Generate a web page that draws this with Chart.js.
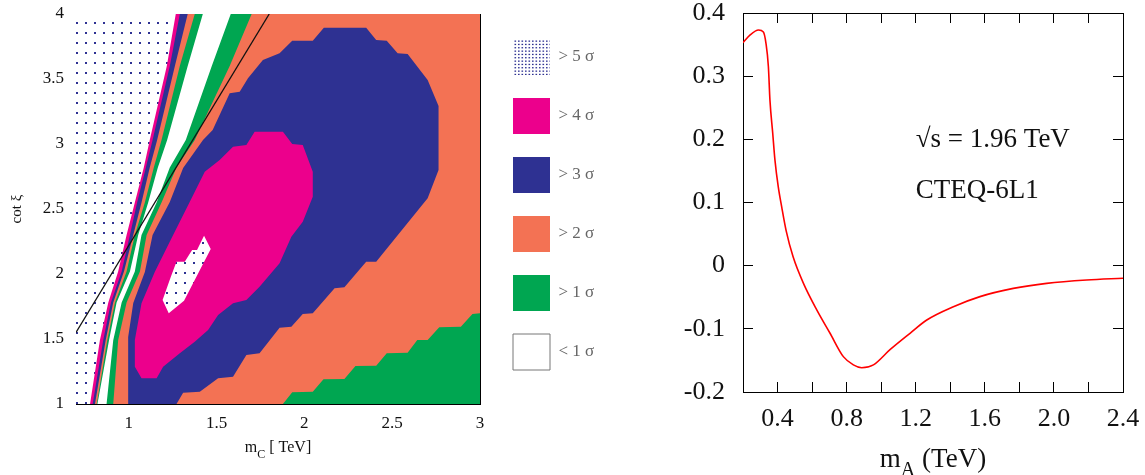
<!DOCTYPE html>
<html>
<head>
<meta charset="utf-8">
<script src="https://cdn.jsdelivr.net/npm/chart.js@4.4.1/dist/chart.umd.min.js"></script>
<style>
  html, body { margin: 0; padding: 0; background: #fff; overflow: hidden; }
  /* the left panel's canvas starts off-page so the layout leaves the legend enough width */
  #left  { position: absolute; left: -200px; top: 0; width: 860px; height: 475px; }
  #right { position: absolute; left: 660px;  top: 0; width: 485px; height: 475px; }
</style>
</head>
<body>
<div id="left"><canvas id="contour"></canvas></div>
<div id="right"><canvas id="curve"></canvas></div>
<script>
const SERIF = '"Liberation Serif", "DejaVu Serif", serif';
const NAVY = '#2e3192', MAGENTA = '#ec008c', ORANGE = '#f37254', GREEN = '#00a651';
const OFFSET = 200; // px of the left canvas hidden off-page

// ---- left panel: significance regions in (m_C, cot xi) ----
const mcRange = [0.7, 3.0];
const cotRange = [1.0, 4.0];

// the whole frame starts as > 2 sigma
const frameBox = [[0.7, 1.0], [3.0, 1.0], [3.0, 4.0], [0.7, 4.0]];

const greenCorner = [[1.878, 1.0], [1.931, 1.09], [2.048, 1.095], [2.109, 1.19], [2.228, 1.192],
  [2.291, 1.292], [2.409, 1.295], [2.469, 1.39], [2.588, 1.395], [2.643, 1.492], [2.702, 1.492],
  [2.768, 1.59], [2.891, 1.595], [2.957, 1.692], [3.0, 1.698], [3.0, 1.0]];

const blueRegion = [[0.997, 1.0], [0.997, 1.515], [1.026, 1.777], [1.092, 2.015], [1.136, 2.3],
  [1.234, 2.554], [1.31, 2.815], [1.423, 3.031], [1.478, 3.108], [1.575, 3.39], [1.632, 3.402],
  [1.679, 3.505], [1.764, 3.646], [1.859, 3.698], [1.931, 3.795], [2.048, 3.795], [2.111, 3.895],
  [2.352, 3.895], [2.409, 3.8], [2.469, 3.795], [2.531, 3.698], [2.588, 3.692], [2.702, 3.492],
  [2.764, 3.292], [2.764, 2.8], [2.702, 2.582], [2.409, 2.095], [2.352, 2.095], [2.228, 1.898],
  [2.172, 1.89], [2.048, 1.698], [1.991, 1.692], [1.926, 1.595], [1.859, 1.587], [1.745, 1.39],
  [1.67, 1.377], [1.594, 1.21], [1.509, 1.198], [1.405, 1.095], [1.31, 1.087], [1.272, 1.0]];

const pinkRegion = [[1.035, 1.492], [1.035, 1.287], [1.073, 1.198], [1.159, 1.198], [1.196, 1.287],
  [1.291, 1.39], [1.376, 1.479], [1.452, 1.569], [1.509, 1.685], [1.594, 1.775], [1.67, 1.8],
  [1.745, 1.902], [1.859, 2.082], [1.926, 2.287], [1.991, 2.402], [2.048, 2.595], [2.048, 2.787],
  [1.991, 2.992], [1.931, 3.0], [1.878, 3.095], [1.717, 3.095], [1.67, 2.992], [1.594, 2.979],
  [1.518, 2.877], [1.433, 2.787], [1.348, 2.556], [1.253, 2.3], [1.149, 2.018], [1.073, 1.775]];

const dotIsland = [[1.429, 2.294], [1.467, 2.192], [1.315, 1.795], [1.228, 1.698], [1.193, 1.8],
  [1.24, 1.979], [1.272, 2.095], [1.319, 2.095], [1.361, 2.185], [1.389, 2.185]];

// thin stripes along the left: m_C of each colour edge at these cot xi levels
const stripeLevels = [4.0, 3.6, 3.03, 2.82, 2.55, 2.3, 2.02, 1.78, 1.49, 1.0];
const edgeDots   = [1.268, 1.217, 1.120, 1.086, 1.035, 0.988, 0.940, 0.884, 0.836, 0.780];
const edgePink   = [1.291, 1.234, 1.136, 1.098, 1.048, 1.007, 0.960, 0.899, 0.855, 0.795];
const edgeBlue   = [1.336, 1.263, 1.162, 1.120, 1.073, 1.026, 0.973, 0.912, 0.869, 0.808];
const edgeOrange = [1.376, 1.291, 1.187, 1.143, 1.092, 1.035, 0.988, 0.922, 0.878, 0.818];
const edgeGreen1 = [1.422, 1.336, 1.219, 1.166, 1.111, 1.054, 1.007, 0.931, 0.888, 0.822];
const edgeWhite  = [1.581, 1.473, 1.325, 1.234, 1.159, 1.073, 1.035, 0.960, 0.912, 0.874];
const edgeGreen2 = [1.700, 1.575, 1.376, 1.272, 1.187, 1.102, 1.064, 0.988, 0.940, 0.912];

const cutLine = [[0.7, 1.55], [1.8, 4.0]];

const legendText = ['> 5 σ', '> 4 σ', '> 3 σ', '> 2 σ', '> 1 σ', '< 1 σ'];
const leftTitleX = [['m', false], ['C', true], [' [ TeV]', false]];
const leftTitleY = 'cot ξ';

// ---- right panel: asymmetry vs m_A ----
const massA = [0.2, 0.24, 0.29, 0.318, 0.333, 0.347, 0.356, 0.372, 0.385, 0.404, 0.424, 0.45,
  0.49, 0.55, 0.627, 0.704, 0.781, 0.839, 0.887, 0.955, 1.051, 1.167, 1.264, 1.418, 1.572,
  1.765, 1.958, 2.19, 2.4];
const asymmetry = [0.353, 0.365, 0.373, 0.37, 0.352, 0.315, 0.262, 0.21, 0.167, 0.125, 0.093, 0.055,
  0.014, -0.028, -0.07, -0.107, -0.144, -0.157, -0.1615, -0.157, -0.133, -0.107, -0.086, -0.065,
  -0.049, -0.036, -0.028, -0.0227, -0.02];
const rightTitleX = [['m', false], ['A', true], [' (TeV)', false]];
const noteText = ['√s = 1.96 TeV', 'CTEQ-6L1'];

// dotted fill used for the > 5 sigma area
function dotPattern(ctx, w, h, dots, size) {
  const c = document.createElement('canvas');
  c.width = w; c.height = h;
  const g = c.getContext('2d');
  g.fillStyle = '#fff';
  g.fillRect(0, 0, w, h);
  g.fillStyle = NAVY;
  dots.forEach(([x, y]) => g.fillRect(x, y, size[0], size[1]));
  return ctx.createPattern(c, 'repeat');
}

const toPts = pairs => pairs.map(([x, y]) => ({x, y}));
const stripeShape = edge => [{x: mcRange[0], y: cotRange[1]},
  ...edge.map((x, i) => ({x, y: stripeLevels[i]})), {x: mcRange[0], y: cotRange[0]}];

// each region is painted over the previous ones
const region = (points, color) => ({
  data: points, fill: 'shape', backgroundColor: color,
  borderWidth: 0, pointRadius: 0, tension: 0
});

// the subscripted axis titles
const subTitle = {
  id: 'subTitle',
  afterDraw(chart, args, opts) {
    const {ctx, chartArea} = chart;
    const main = opts.size + 'px ' + SERIF;
    const small = Math.round(opts.size * 0.75) + 'px ' + SERIF;
    ctx.save();
    ctx.fillStyle = '#111';
    ctx.textBaseline = 'alphabetic';
    let w = 0;
    opts.parts.forEach(([t, sub]) => { ctx.font = sub ? small : main; w += ctx.measureText(t).width; });
    let x = (chartArea.left + chartArea.right) / 2 - w / 2;
    opts.parts.forEach(([t, sub]) => {
      ctx.font = sub ? small : main;
      ctx.fillText(t, x, opts.y + (sub ? opts.size * 0.35 : 0));
      x += ctx.measureText(t).width;
    });
    ctx.restore();
  }
};

const notes = {
  id: 'notes',
  afterDatasetsDraw(chart, args, opts) {
    const {ctx, scales} = chart;
    ctx.save();
    ctx.font = opts.size + 'px ' + SERIF;
    ctx.fillStyle = '#111';
    ctx.textBaseline = 'middle';
    opts.items.forEach(n => ctx.fillText(n.text, scales.x.getPixelForValue(n.x), scales.y.getPixelForValue(n.y)));
    ctx.restore();
  }
};

const plain = v => String(Math.round(v * 100) / 100);

// axis with tick marks pointing into the frame; fixed size, no extra label padding
function frameAxis(position, range, step, tick, size, labels) {
  const vertical = position === 'left' || position === 'right';
  return {
    type: 'linear', display: true, position, min: range[0], max: range[1],
    afterFit: s => {
      if (vertical) s.width = size; else s.height = size;
      s.paddingTop = s.paddingBottom = s.paddingLeft = s.paddingRight = 0;
    },
    grid: {drawOnChartArea: false, drawTicks: true, tickLength: -tick, tickColor: '#000'},
    border: {display: true, color: '#000', width: 1},
    ticks: Object.assign({display: !!labels, stepSize: step, includeBounds: false, autoSkip: false,
      maxRotation: 0, color: '#111', callback: plain}, labels || {})
  };
}

const lctx = document.getElementById('contour').getContext('2d');
const plotDots = dotPattern(lctx, 9, 10, [[6, 2]], [2, 2]);
const legendDots = dotPattern(lctx, 7, 10, [[0.5, 0.5], [4, 0.5], [0.5, 3.8], [4, 3.8], [0.5, 7.1], [4, 7.1]], [1.6, 1.3]);
const legendFill = [legendDots, MAGENTA, NAVY, ORANGE, GREEN, '#fff'];

const layers = [
  region(toPts(frameBox), ORANGE),
  region(toPts(greenCorner), GREEN),
  region(toPts(blueRegion), NAVY),
  region(toPts(pinkRegion), MAGENTA),
  region(toPts(dotIsland), plotDots),
  region(stripeShape(edgeGreen2), GREEN),
  region(stripeShape(edgeWhite), '#fff'),
  region(stripeShape(edgeGreen1), GREEN),
  region(stripeShape(edgeOrange), ORANGE),
  region(stripeShape(edgeBlue), NAVY),
  region(stripeShape(edgePink), MAGENTA),
  region(stripeShape(edgeDots), plotDots),
  {data: toPts(cutLine), fill: false, borderColor: '#111', borderWidth: 1.3, pointRadius: 0}
];
layers.forEach((d, i) => { d.order = layers.length - i; });

const contour = new Chart(lctx, {
  type: 'line',
  data: {datasets: layers},
  plugins: [subTitle],
  options: {
    responsive: true, maintainAspectRatio: false, animation: false,
    layout: {padding: {left: 0, top: 0, bottom: 0, right: 55}},
    scales: {
      x: frameAxis('bottom', mcRange, 0.5, 6, 71, {padding: 15, font: {family: SERIF, size: 17}}),
      x2: frameAxis('top', mcRange, 0.5, 6, 14),
      y: Object.assign(frameAxis('left', cotRange, 0.5, 6, 76 + OFFSET, {padding: 18, font: {family: SERIF, size: 17}}), {
        title: {display: true, text: leftTitleY, color: '#111', font: {family: SERIF, size: 15},
          padding: {top: 8 + OFFSET, bottom: 0}}
      }),
      y2: frameAxis('right', cotRange, 0.5, 6, 10)
    },
    plugins: {
      tooltip: {enabled: false},
      subTitle: {parts: leftTitleX, size: 16, y: 452},
      legend: {
        position: 'right', align: 'start', fullSize: true,
        title: {display: true, text: ' ', font: {size: 10}, padding: {top: 4, bottom: 0}},
        labels: {
          boxWidth: 37, boxHeight: 36, padding: 23, color: '#222',
          font: {family: SERIF, size: 17},
          generateLabels: () => legendText.map((text, i) => ({
            text, fillStyle: legendFill[i], strokeStyle: '#777',
            lineWidth: i === legendText.length - 1 ? 1 : 0, hidden: false
          }))
        }
      }
    }
  }
});
// keep the plot frame's right edge where the reference has it
const shift = contour.chartArea.right - (480 + OFFSET);
if (Math.abs(shift) > 0.5) {
  contour.options.layout.padding.right += shift;
  contour.update();
}

new Chart(document.getElementById('curve'), {
  type: 'line',
  data: {
    datasets: [{
      data: massA.map((x, i) => ({x, y: asymmetry[i]})),
      borderColor: '#ff0000', borderWidth: 1.6, pointRadius: 0,
      cubicInterpolationMode: 'monotone', fill: false
    }]
  },
  plugins: [subTitle, notes],
  options: {
    responsive: true, maintainAspectRatio: false, animation: false,
    layout: {padding: 0},
    scales: {
      x: frameAxis('bottom', [0.2, 2.4], 0.2, 10, 83, {
        padding: 22, font: {family: SERIF, size: 26},
        callback: v => (Math.round(v * 10) % 4 === 0 ? v.toFixed(1) : '')
      }),
      x2: frameAxis('top', [0.2, 2.4], 0.2, 10, 13),
      y: frameAxis('left', [-0.2, 0.4], 0.1, 10, 83, {padding: 28, font: {family: SERIF, size: 26}}),
      y2: frameAxis('right', [-0.2, 0.4], 0.1, 10, 22)
    },
    plugins: {
      legend: {display: false},
      tooltip: {enabled: false},
      subTitle: {parts: rightTitleX, size: 27, y: 467},
      notes: {size: 27, items: [
        {text: noteText[0], x: 1.2, y: 0.199},
        {text: noteText[1], x: 1.2, y: 0.118}
      ]}
    }
  }
});
</script>
</body>
</html>
